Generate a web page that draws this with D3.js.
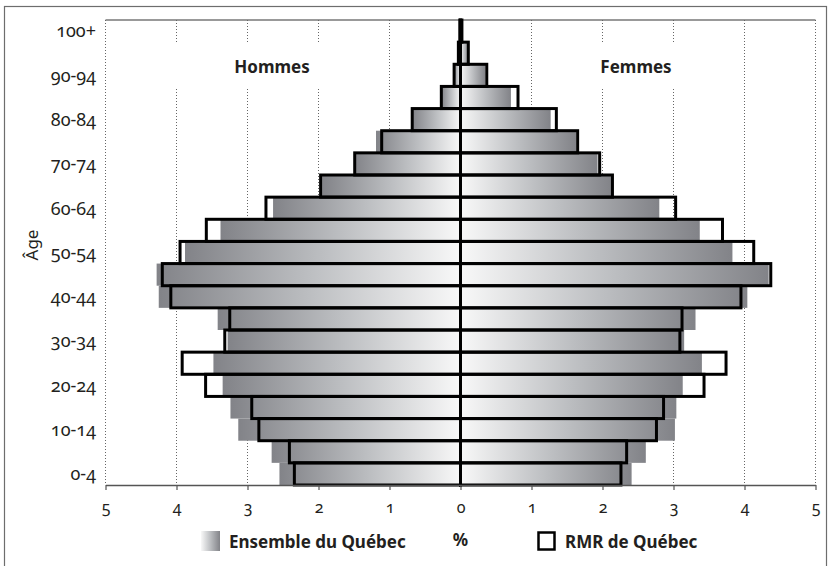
<!DOCTYPE html>
<html>
<head>
<meta charset="utf-8">
<script src="https://cdn.jsdelivr.net/npm/d3@7"></script>
<style>
body { margin: 0; background: #fff; }
svg text { font-family: "Noto Sans", "Open Sans", sans-serif; fill: #231f20; font-variant-numeric: oldstyle-nums; }
</style>
</head>
<body>
<div id="chart"></div>
<script>
// groupes d'age, du bas vers le haut
var ages = ["0-4", "5-9", "10-14", "15-19", "20-24", "25-29", "30-34", "35-39", "40-44", "45-49",
  "50-54", "55-59", "60-64", "65-69", "70-74", "75-79", "80-84", "85-89", "90-94", "95-99", "100+"];

// % de la population, Ensemble du Quebec
var hommesQc = [2.55, 2.66, 3.13, 3.24, 3.35, 3.48, 3.28, 3.42, 4.25, 4.28,
  3.88, 3.38, 2.64, 1.95, 1.50, 1.19, 0.68, 0.27, 0.09, 0.03, 0.01];
var femmesQc = [2.41, 2.61, 3.02, 3.04, 3.13, 3.40, 3.15, 3.31, 4.04, 4.34,
  3.83, 3.37, 2.80, 2.13, 1.93, 1.63, 1.27, 0.71, 0.35, 0.11, 0.02];

// % de la population, RMR de Quebec
var hommesRmr = [2.34, 2.41, 2.84, 2.94, 3.59, 3.92, 3.32, 3.25, 4.08, 4.20,
  3.95, 3.58, 2.74, 1.97, 1.49, 1.11, 0.68, 0.27, 0.09, 0.03, 0.01];
var femmesRmr = [2.26, 2.34, 2.76, 2.86, 3.43, 3.74, 3.09, 3.12, 3.95, 4.37,
  4.13, 3.69, 3.03, 2.14, 1.96, 1.65, 1.35, 0.81, 0.37, 0.11, 0.02];

var xTicks = [-5, -4, -3, -2, -1, 0, 1, 2, 3, 4, 5];

var width = 830,
height = 566;

var svg = d3.select("#chart").append("svg")
  .attr("width", width)
  .attr("height", height);

var defs = svg.append("defs");

function gradient(id, from, to) {
  var g = defs.append("linearGradient")
    .attr("id", id)
    .attr("x1", "0%").attr("x2", "100%")
    .attr("y1", "0%").attr("y2", "0%");
  g.append("stop").attr("offset", "0%").attr("stop-color", from);
  g.append("stop").attr("offset", "50%").attr("stop-color", "#bcbec1");
  g.append("stop").attr("offset", "100%").attr("stop-color", to);
}
gradient("gradH", "#828388", "#f8f8f8");
gradient("gradF", "#f8f8f8", "#828388");

var x = d3.scaleLinear().domain([-5, 5]).range([105.5, 815.5]);
var y = d3.scaleBand().domain(ages).range([485, 20]).padding(0);

// cadre
svg.append("rect")
  .attr("x", 4.5).attr("y", 6.5)
  .attr("width", 822).attr("height", 600)
  .attr("fill", "none")
  .attr("stroke", "#6d6d6d")
  .attr("stroke-width", 1.2);

svg.append("line")
  .attr("x1", x(-5)).attr("x2", x(5))
  .attr("y1", 20).attr("y2", 20)
  .attr("stroke", "#777")
  .attr("stroke-width", 1.5);

// grille pointillee
svg.append("g").selectAll("line")
  .data(xTicks.filter(function (d) { return d !== 0; }))
  .enter().append("line")
  .attr("x1", function (d) { return x(d); })
  .attr("x2", function (d) { return x(d); })
  .attr("y1", 20).attr("y2", 485)
  .attr("stroke", "#666")
  .attr("stroke-width", 1)
  .attr("stroke-dasharray", "1,2");

// fonds blancs des titres
svg.append("rect").attr("x", 168).attr("y", 42).attr("width", 165).attr("height", 45).attr("fill", "#fff");
svg.append("rect").attr("x", 588).attr("y", 42).attr("width", 100).attr("height", 45).attr("fill", "#fff");

svg.append("text")
  .attr("x", 272).attr("y", 73)
  .attr("text-anchor", "middle")
  .style("font-size", "17px")
  .style("font-weight", "bold")
  .text("Hommes");

svg.append("text")
  .attr("x", 636).attr("y", 73)
  .attr("text-anchor", "middle")
  .style("font-size", "17px")
  .style("font-weight", "bold")
  .text("Femmes");

// barres Ensemble du Quebec
var bars = svg.append("g");

bars.selectAll("rect.h")
  .data(hommesQc)
  .enter().append("rect")
  .attr("class", "h")
  .attr("x", function (d) { return x(-d); })
  .attr("y", function (d, i) { return y(ages[i]); })
  .attr("width", function (d) { return x(0) - x(-d); })
  .attr("height", y.bandwidth())
  .attr("fill", "url(#gradH)");

bars.selectAll("rect.f")
  .data(femmesQc)
  .enter().append("rect")
  .attr("class", "f")
  .attr("x", x(0))
  .attr("y", function (d, i) { return y(ages[i]); })
  .attr("width", function (d) { return x(d) - x(0); })
  .attr("height", y.bandwidth())
  .attr("fill", "url(#gradF)");

// contours RMR de Quebec
var rmr = svg.append("g")
  .attr("fill", "none")
  .attr("stroke", "#000")
  .attr("stroke-width", 3);

rmr.selectAll("rect.h")
  .data(hommesRmr)
  .enter().append("rect")
  .attr("class", "h")
  .attr("x", function (d) { return x(-d); })
  .attr("y", function (d, i) { return y(ages[i]); })
  .attr("width", function (d) { return x(0) - x(-d); })
  .attr("height", y.bandwidth());

rmr.selectAll("rect.f")
  .data(femmesRmr)
  .enter().append("rect")
  .attr("class", "f")
  .attr("x", x(0))
  .attr("y", function (d, i) { return y(ages[i]); })
  .attr("width", function (d) { return x(d) - x(0); })
  .attr("height", y.bandwidth());

// axe central
svg.append("line")
  .attr("x1", x(0)).attr("x2", x(0))
  .attr("y1", 19).attr("y2", 487)
  .attr("stroke", "#000")
  .attr("stroke-width", 3);

// axe des x
var xAxis = svg.append("g")
  .attr("transform", "translate(0,485)")
  .call(d3.axisBottom(x)
    .tickValues(xTicks)
    .tickSize(5)
    .tickSizeOuter(0)
    .tickPadding(12)
    .tickFormat(function (d) { return Math.abs(d); }));

xAxis.select(".domain").attr("stroke", "#555").attr("stroke-width", 1.5);
xAxis.selectAll(".tick line").attr("stroke", "#555").attr("stroke-width", 1.2);
xAxis.selectAll(".tick text")
  .attr("fill", "#231f20")
  .style("font-size", "16px")
  .style("font-family", "Noto Sans, sans-serif");

// etiquettes d'age (une sur deux)
svg.append("g").selectAll("text")
  .data(ages.filter(function (d, i) { return i % 2 === 0; }))
  .enter().append("text")
  .attr("x", 96)
  .attr("y", function (d) { return y(d) + y.bandwidth() / 2; })
  .attr("dy", "0.35em")
  .attr("text-anchor", "end")
  .style("font-size", "18px")
  .text(function (d) { return d; });

svg.append("text")
  .attr("transform", "translate(38,245) rotate(-90)")
  .attr("text-anchor", "middle")
  .style("font-size", "17px")
  .text("Âge");

svg.append("text")
  .attr("x", x(0)).attr("y", 546)
  .attr("text-anchor", "middle")
  .style("font-size", "17px")
  .style("font-weight", "bold")
  .text("%");

// legende
svg.append("rect")
  .attr("x", 201).attr("y", 531)
  .attr("width", 19).attr("height", 20)
  .attr("fill", "url(#gradF)");

svg.append("text")
  .attr("x", 229).attr("y", 548)
  .style("font-size", "17px")
  .style("font-weight", "bold")
  .text("Ensemble du Québec");

svg.append("rect")
  .attr("x", 538.5).attr("y", 532.5)
  .attr("width", 16).attr("height", 17)
  .attr("fill", "#fff")
  .attr("stroke", "#000")
  .attr("stroke-width", 2.5);

svg.append("text")
  .attr("x", 565).attr("y", 548)
  .style("font-size", "17px")
  .style("font-weight", "bold")
  .text("RMR de Québec");
</script>
</body>
</html>
